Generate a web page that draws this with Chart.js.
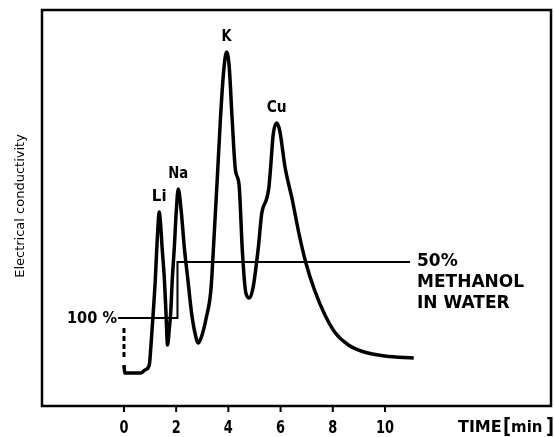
<!DOCTYPE html>
<html>
<head>
<meta charset="utf-8">
<script src="https://cdn.jsdelivr.net/npm/chart.js@4"></script>
<style>
  html, body { margin: 0; padding: 0; background: #fff; }
  #chart { display: block; }
</style>
</head>
<body>
<canvas id="chart" width="554" height="437"></canvas>
<script>
// elution time (min) and detector response (arbitrary units)
const times = [0, 0.03, 0.65, 0.8, 0.97, 1.03, 1.12, 1.20, 1.26, 1.31, 1.35, 1.40, 1.46, 1.55, 1.61, 1.67,
  1.74, 1.79, 1.85, 1.93, 2.00, 2.08, 2.20, 2.31, 2.45, 2.59, 2.72, 2.85, 2.98, 3.15, 3.33, 3.46, 3.58,
  3.70, 3.82, 3.93, 4.03, 4.14, 4.27, 4.41, 4.54, 4.67, 4.81, 4.95, 5.15, 5.28, 5.45, 5.55,
  5.62, 5.72, 5.85, 5.97, 6.17, 6.45, 6.70, 6.97, 7.30, 7.70, 8.10, 8.60, 9.20, 10.0, 11.1];
const conductivity = [41, 33, 33, 36, 41, 59, 93, 126, 159, 183, 194, 183, 159, 126, 93, 61,
  78, 93, 126, 159, 193, 217, 193, 159, 126, 93, 73, 63, 70, 88, 116, 173, 230,
  289, 335, 354, 340, 289, 236, 221, 153, 113, 108, 119, 159, 193, 206, 218,
  239, 272, 283, 275, 239, 206, 173, 143, 116, 91, 73, 61, 54, 50, 48];

// eluent step: 100 % methanol, then 50 % methanol in water
const stepTimes = [-0.23, 2.05, 2.05, 10.96];
const stepLevels = [88, 88, 144, 144];

// injection mark
const injectTimes = [0, 0];
const injectLevels = [49, 78];

const tickValues = [0, 2, 4, 6, 8, 10];
const peakNames = ["Li", "Na", "K", "Cu"];
const peakTimes = [1.35, 2.08, 3.93, 5.85];
const peakHeights = [194, 217, 354, 283];

const toPoints = (xs, ys) => xs.map((x, i) => ({ x: x, y: ys[i] }));

const FONT = "'DejaVu Sans', sans-serif";

// frame, ticks and all the printed labels
const decorations = {
  id: "decorations",
  afterDraw(chart) {
    const ctx = chart.ctx;
    const a = chart.chartArea;
    const xs = chart.scales.x;
    const ys = chart.scales.y;
    ctx.save();
    ctx.strokeStyle = "#000";
    ctx.fillStyle = "#000";

    // frame
    ctx.lineWidth = 2.5;
    ctx.strokeRect(a.left, a.top, a.right - a.left, a.bottom - a.top);

    // x ticks and labels
    ctx.lineWidth = 2;
    ctx.font = "bold 18px " + FONT;
    ctx.textAlign = "center";
    ctx.textBaseline = "middle";
    tickValues.forEach(v => {
      const px = xs.getPixelForValue(v);
      ctx.beginPath();
      ctx.moveTo(px, a.bottom);
      ctx.lineTo(px, a.bottom + 6);
      ctx.stroke();
      const s = String(v);
      ctx.fillText(s, px, a.bottom + 22, s.length * 9);
    });

    // axis titles
    ctx.textAlign = "left";
    ctx.font = "bold 16px " + FONT;
    ctx.fillText("TIME", 458, a.bottom + 22, 45);
    ctx.font = "bold 22px " + FONT;
    ctx.fillText("[", 503, a.bottom + 21, 8);
    ctx.fillText("]", 546, a.bottom + 21, 8);
    ctx.font = "bold 15px " + FONT;
    ctx.fillText("min", 511, a.bottom + 22, 35);

    ctx.save();
    ctx.translate(21, 206);
    ctx.rotate(-Math.PI / 2);
    ctx.textAlign = "center";
    ctx.font = "13px " + FONT;
    ctx.fillText("Electrical conductivity", 0, 0, 155);
    ctx.restore();

    // peak names
    ctx.textAlign = "center";
    ctx.font = "bold 15px " + FONT;
    peakNames.forEach((name, i) => {
      const px = xs.getPixelForValue(peakTimes[i]);
      const py = ys.getPixelForValue(peakHeights[i]);
      ctx.fillText(name, px, py - 15, name.length * 10);
    });

    // eluent labels
    const lowY = ys.getPixelForValue(stepLevels[0]);
    const highY = ys.getPixelForValue(stepLevels[2]);
    ctx.textAlign = "right";
    ctx.font = "bold 15px " + FONT;
    ctx.fillText("100 %", xs.getPixelForValue(stepTimes[0]) - 1, lowY + 1, 50);
    ctx.textAlign = "left";
    ctx.font = "bold 17px " + FONT;
    const tx = xs.getPixelForValue(stepTimes[3]) + 7;
    ctx.fillText("50%", tx, highY, 48);
    ctx.fillText("METHANOL", tx, highY + 21, 110);
    ctx.fillText("IN WATER", tx, highY + 42, 100);
    ctx.restore();
  }
};

new Chart(document.getElementById("chart"), {
  type: "line",
  data: {
    datasets: [
      {
        label: "Conductivity",
        data: toPoints(times, conductivity),
        borderColor: "#000",
        borderWidth: 3.5,
        cubicInterpolationMode: "monotone",
        pointRadius: 0,
        fill: false
      },
      {
        label: "Eluent",
        data: toPoints(stepTimes, stepLevels),
        borderColor: "#000",
        borderWidth: 2,
        tension: 0,
        pointRadius: 0,
        fill: false
      },
      {
        label: "Injection",
        data: toPoints(injectTimes, injectLevels),
        borderColor: "#000",
        borderWidth: 3,
        borderDash: [5, 3],
        tension: 0,
        pointRadius: 0,
        fill: false
      }
    ]
  },
  options: {
    responsive: false,
    animation: false,
    layout: { padding: { left: 42, top: 10, right: 3, bottom: 31 } },
    plugins: { legend: { display: false }, tooltip: { enabled: false } },
    scales: {
      x: { type: "linear", min: -3.14, max: 16.36, display: false },
      y: { type: "linear", min: 0, max: 396, display: false }
    }
  },
  plugins: [decorations]
});
</script>
</body>
</html>
